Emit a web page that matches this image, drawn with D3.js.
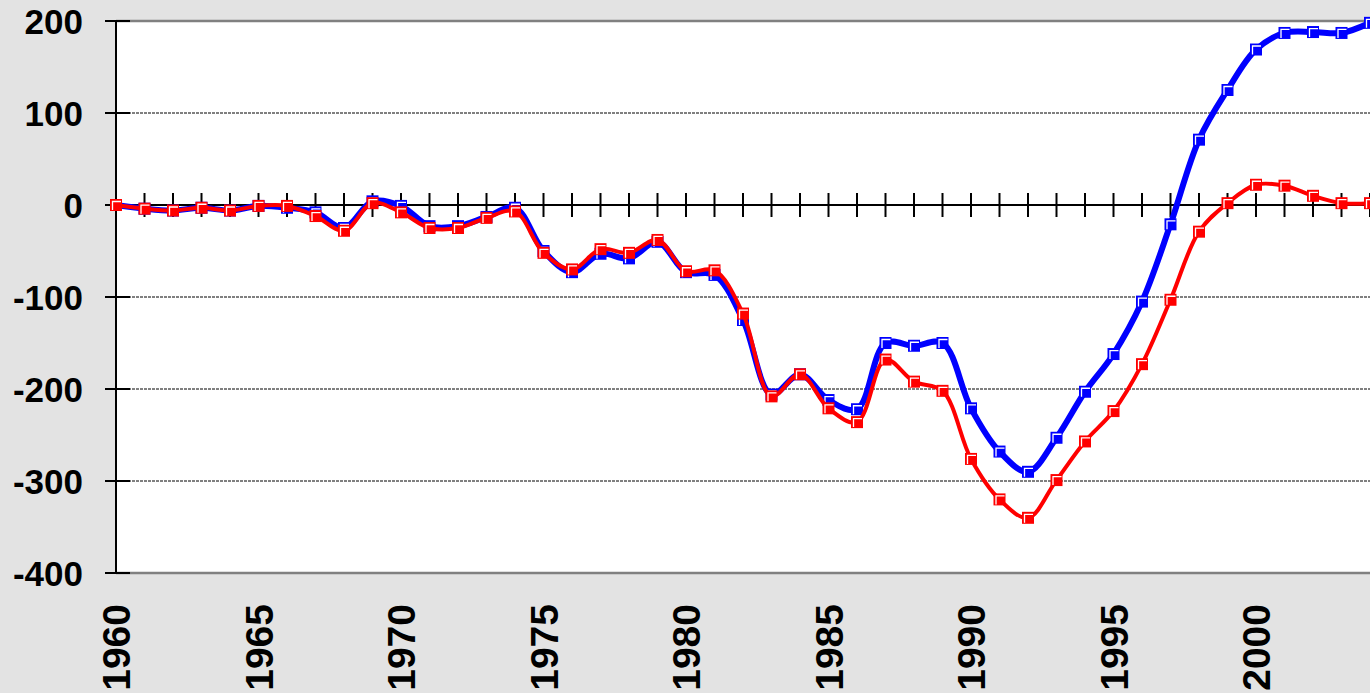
<!DOCTYPE html>
<html><head><meta charset="utf-8">
<script src="https://cdn.jsdelivr.net/npm/d3@7"></script>
<style>html,body{margin:0;padding:0;background:#e3e3e3;}svg{display:block;}</style>
</head><body><svg id="c" width="1370" height="693"></svg>
<script>
const years = d3.range(1960, 2005);
const blueValues = [0,-4,-6,-3,-6,-1,-3,-8,-25,4,-1,-23,-23,-13,-3,-50,-73,-53,-58,-40,-73,-76,-125,-206,-184,-212,-222,-150,-153,-150,-221,-268,-290,-253,-203,-162,-105,-21,71,125,169,187,188,187,198];
const redValues  = [0,-4,-6,-3,-6,-1,-1,-12,-28,2,-8,-25,-25,-14,-7,-52,-70,-48,-52,-38,-72,-71,-118,-208,-184,-221,-236,-168,-192,-202,-276,-320,-340,-299,-257,-224,-173,-103,-29,2,22,21,10,2,2];
const yTicks = [200,100,0,-100,-200,-300,-400];
const xLabels = [1960,1965,1970,1975,1980,1985,1990,1995,2000];

const svg = d3.select("#c");
const L = 116, R = 1370, T = 21, B = 573;
const x = d3.scaleLinear().domain([1960, 2004]).range([L, R]);
const y = d3.scaleLinear().domain([-400, 200]).range([B, T]);

svg.append("rect").attr("x", L).attr("y", T).attr("width", R - L).attr("height", B - T).attr("fill", "#fff");

// gridlines
svg.append("g").selectAll("line").data(yTicks.filter(v => v !== 0 && v !== 200 && v !== -400)).join("line")
  .attr("x1", L).attr("x2", R).attr("y1", d => y(d)).attr("y2", d => y(d))
  .attr("stroke", "#000").attr("stroke-width", 1).attr("stroke-dasharray", "3,1");
// borders
svg.append("line").attr("x1", L).attr("x2", R).attr("y1", T).attr("y2", T).attr("stroke", "#808080").attr("stroke-width", 2.5);
svg.append("line").attr("x1", L).attr("x2", R).attr("y1", B).attr("y2", B).attr("stroke", "#808080").attr("stroke-width", 2.5);

// y axis
svg.append("line").attr("x1", L).attr("x2", L).attr("y1", T).attr("y2", B).attr("stroke", "#000").attr("stroke-width", 2);
svg.append("g").selectAll("line").data(yTicks).join("line")
  .attr("x1", 105).attr("x2", 130).attr("y1", d => y(d)).attr("y2", d => y(d))
  .attr("stroke", "#000").attr("stroke-width", 2);
svg.append("g").selectAll("text").data(yTicks).join("text")
  .attr("x", 83).attr("y", d => y(d)).attr("dy", "0.36em").attr("text-anchor", "end")
  .attr("font-family", "Liberation Sans, Arial, sans-serif").attr("font-weight", "bold").attr("font-size", 35)
  .attr("fill", "#000").text(d => d);

// zero line with ticks
svg.append("line").attr("x1", L).attr("x2", R).attr("y1", y(0)).attr("y2", y(0)).attr("stroke", "#000").attr("stroke-width", 2);
svg.append("g").selectAll("line").data(years.slice(1)).join("line")
  .attr("x1", d => x(d)).attr("x2", d => x(d)).attr("y1", y(0) - 12).attr("y2", y(0) + 12)
  .attr("stroke", "#000").attr("stroke-width", 2);

// x labels
svg.append("g").selectAll("text").data(xLabels).join("text")
  .attr("transform", d => `translate(${x(d)},604) rotate(-90)`)
  .attr("dy", "0.36em").attr("text-anchor", "end")
  .attr("font-family", "Liberation Sans, Arial, sans-serif").attr("font-weight", "bold").attr("font-size", 39)
  .attr("fill", "#000").text(d => d);

const line = d3.line().x((d, i) => x(years[i])).y(d => y(d)).curve(d3.curveCatmullRom.alpha(0.5));

function series(vals, color, width) {
  const g = svg.append("g");
  g.append("path").attr("d", line(vals)).attr("fill", "none").attr("stroke", color).attr("stroke-width", width).attr("stroke-linejoin", "round");
  const m = g.selectAll("g.m").data(vals).join("g").attr("transform", (d, i) => `translate(${x(years[i])},${y(d)})`);
  m.append("rect").attr("x", -6).attr("y", -6).attr("width", 12).attr("height", 12).attr("fill", color);
  m.append("path").attr("d", "M-3.5,5V-3.5H5").attr("fill", "none").attr("stroke", "#fff").attr("stroke-width", 1.3);
}
series(blueValues, "#0000ff", 6);
series(redValues, "#ff0000", 4);
</script></body></html>
